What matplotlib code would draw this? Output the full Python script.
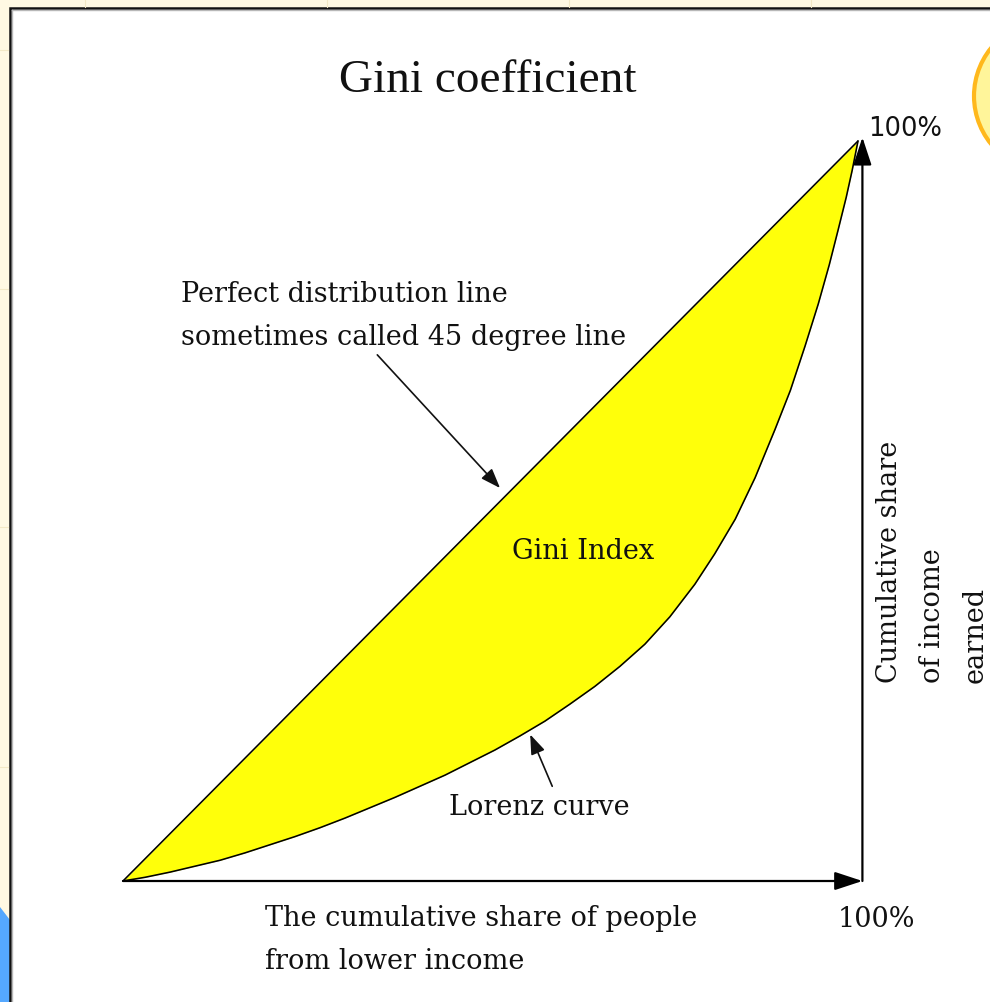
import matplotlib
matplotlib.use("Agg")
import matplotlib.pyplot as plt
from matplotlib.patches import Rectangle, Circle, Polygon

# ---------------- data (percent) ----------------
perfect_people = [0, 100]
perfect_income = [0, 100]
lorenz_people = [0, 3.0, 6.4, 9.8, 13.2, 16.6, 20.0, 23.4, 26.8, 30.2, 33.6,
                 37.0, 40.4, 43.8, 47.2, 50.6, 54.0, 57.4, 60.8, 64.2, 67.6,
                 71.0, 74.4, 77.8, 80.5, 83.3, 86.0, 88.7, 90.8, 92.8, 94.6,
                 96.1, 97.3, 98.4, 99.2, 100]
lorenz_income = [0, 0.5, 1.2, 2.0, 2.8, 3.8, 4.9, 6.0, 7.2, 8.5, 9.9,
                 11.3, 12.8, 14.3, 16.0, 17.7, 19.6, 21.6, 23.9, 26.3, 29.0,
                 32.0, 35.7, 40.1, 44.2, 48.9, 54.5, 61.0, 66.3, 72.3, 78.0,
                 83.3, 88.0, 92.4, 96.0, 100]

title = "Gini coefficient"
label_perfect = ["Perfect distribution line", "sometimes called 45 degree line"]
label_gini = "Gini Index"
label_lorenz = "Lorenz curve"
label_x = ["The cumulative share of people", "from lower income"]
label_y = ["Cumulative share", "of income", "earned"]
label_100 = "100%"

W, H = 990, 1003
fig = plt.figure(figsize=(W / 100, H / 100), dpi=100)
fig.patch.set_facecolor("#FFF9E3")

# ---------------- background decorations (pixel space) ----------------
bg = fig.add_axes([0, 0, 1, 1], zorder=0)
bg.set_xlim(0, W)
bg.set_ylim(H, 0)
bg.axis("off")
bg.patch.set_alpha(0)
for gx in [85, 327, 569, 811]:
    bg.plot([gx, gx], [0, 8], color="#F3E9C6", lw=0.8)
for gy in [51, 290, 528, 768]:
    bg.plot([0, 8], [gy, gy], color="#F3E9C6", lw=0.8)
bg.add_patch(Polygon([(0, 908), (10, 921), (10, H), (0, H)], closed=True,
                     facecolor="#55A8FF", edgecolor="none"))
bg.add_patch(Rectangle((10, 9), W + 20, H + 20, facecolor="white",
                       edgecolor="#111111", lw=1.8))
bg.plot([12, 12], [11, H], color="#B8B8B8", lw=1.0)
bg.plot([12, W], [11, 11], color="#B8B8B8", lw=1.0)

# ---------------- main chart ----------------
x0, y0, x1, y1 = 123, 882, 858, 142
ax = fig.add_axes([x0 / W, (H - y0) / H, (x1 - x0) / W, (y0 - y1) / H], zorder=2)
ax.set_xlim(0, 100)
ax.set_ylim(0, 100)
ax.axis("off")
ax.patch.set_alpha(0)

ax.fill_between(lorenz_people, lorenz_income, lorenz_people,
                color="#FFFF0A", lw=0)
ax.plot(perfect_people, perfect_income, color="black", lw=1.15,
        solid_capstyle="butt", clip_on=False)
ax.plot(lorenz_people, lorenz_income, color="black", lw=1.15,
        solid_joinstyle="round", clip_on=False)

axis_arrow = dict(arrowstyle="-|>,head_length=0.85,head_width=0.28",
                  mutation_scale=20, color="black", lw=1.6,
                  shrinkA=0, shrinkB=0)
ax.annotate("", xy=(100.6, 0), xytext=(0, 0), arrowprops=axis_arrow,
            annotation_clip=False)
ax.annotate("", xy=(100.6, 100.5), xytext=(100.6, 0), arrowprops=axis_arrow,
            annotation_clip=False)

note_arrow = dict(arrowstyle="-|>,head_length=0.6,head_width=0.22",
                  mutation_scale=20, color="#111111", lw=1.2,
                  shrinkA=0, shrinkB=0)
ax.annotate("", xy=(51.3, 53.1), xytext=(34.6, 71.1), arrowprops=note_arrow,
            annotation_clip=False)
ax.annotate("", xy=(55.4, 19.8), xytext=(58.4, 12.8), arrowprops=note_arrow,
            annotation_clip=False)

# ---------------- texts and top decorations (pixel space) ----------------
top = fig.add_axes([0, 0, 1, 1], zorder=3)
top.set_xlim(0, W)
top.set_ylim(H, 0)
top.axis("off")
top.patch.set_alpha(0)

top.add_patch(Circle((1050, 97), 76, facecolor="#FFF59A",
                     edgecolor="#FFB81C", lw=3))

serif = "DejaVu Serif"
fs = 19.5
txtc = "#111111"
top.text(488, 92, title, family="Liberation Serif", fontsize=34,
         ha="center", va="baseline", color=txtc)
top.text(868, 136, label_100, family="DejaVu Sans", fontsize=18.5,
         ha="left", va="baseline", color=txtc)
top.text(181, 302, label_perfect[0], family=serif, fontsize=fs,
         ha="left", va="baseline", color=txtc)
top.text(181, 345, label_perfect[1], family=serif, fontsize=fs,
         ha="left", va="baseline", color=txtc)
top.text(583, 559, label_gini, family=serif, fontsize=fs,
         ha="center", va="baseline", color=txtc)
top.text(539, 815, label_lorenz, family=serif, fontsize=fs,
         ha="center", va="baseline", color=txtc)
top.text(265, 926, label_x[0], family=serif, fontsize=fs,
         ha="left", va="baseline", color=txtc)
top.text(265, 969, label_x[1], family=serif, fontsize=fs,
         ha="left", va="baseline", color=txtc)
top.text(838, 927, label_100, family=serif, fontsize=fs,
         ha="left", va="baseline", color=txtc)
for xb, line in zip([897, 940, 983], label_y):
    top.text(xb, 683, line, family=serif, fontsize=fs, rotation=90,
             rotation_mode="anchor", ha="left", va="baseline", color=txtc)

fig.savefig("out.png", dpi=100)
